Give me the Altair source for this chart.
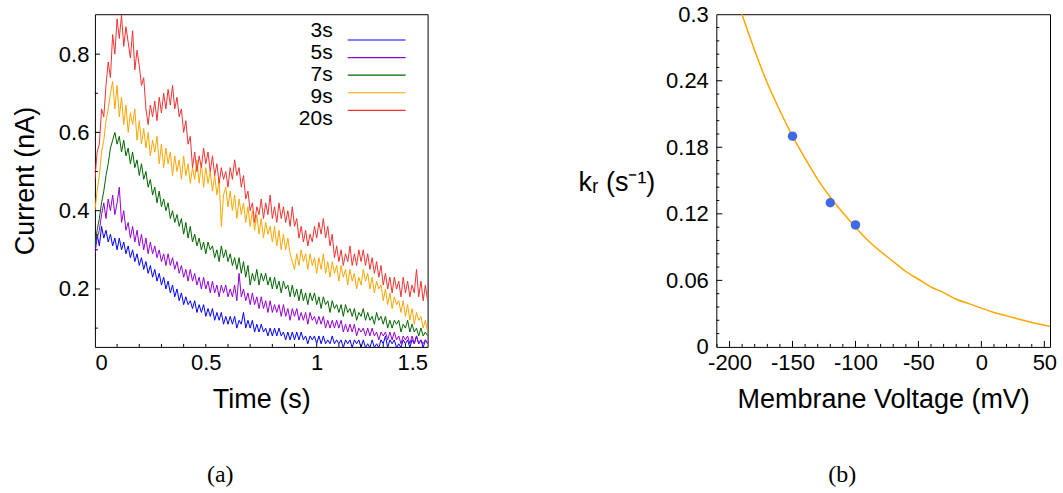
import altair as alt
import pandas as pd

# ---------------- Panel (a): current traces ----------------
time_s = [round(0.01 * i, 2) for i in range(151)]  # sample times 0 .. 1.5 s

cur_3s = [0.30, 0.34, 0.31, 0.36, 0.33, 0.35, 0.32, 0.34, 0.31, 0.33,
          0.30, 0.33, 0.30, 0.32, 0.29, 0.31, 0.28, 0.30, 0.27, 0.29,
          0.26, 0.28, 0.25, 0.27, 0.24, 0.26, 0.23, 0.25, 0.22, 0.24,
          0.21, 0.23, 0.20, 0.22, 0.19, 0.21, 0.18, 0.20, 0.17, 0.19,
          0.16, 0.18, 0.16, 0.17, 0.15, 0.17, 0.14, 0.16, 0.14, 0.16,
          0.13, 0.15, 0.13, 0.15, 0.12, 0.14, 0.12, 0.14, 0.11, 0.13,
          0.11, 0.13, 0.11, 0.13, 0.10, 0.12, 0.11, 0.14, 0.10, 0.12,
          0.10, 0.12, 0.09, 0.11, 0.09, 0.11, 0.09, 0.10, 0.08, 0.10,
          0.08, 0.10, 0.08, 0.10, 0.08, 0.09, 0.07, 0.09, 0.07, 0.09,
          0.07, 0.09, 0.07, 0.09, 0.07, 0.08, 0.06, 0.08, 0.07, 0.08,
          0.06, 0.08, 0.06, 0.08, 0.06, 0.07, 0.06, 0.08, 0.06, 0.07,
          0.06, 0.07, 0.05, 0.07, 0.06, 0.07, 0.05, 0.07, 0.06, 0.07,
          0.05, 0.07, 0.05, 0.06, 0.05, 0.07, 0.05, 0.06, 0.05, 0.07,
          0.06, 0.08, 0.05, 0.07, 0.06, 0.07, 0.05, 0.06, 0.05, 0.07,
          0.06, 0.07, 0.05, 0.07, 0.06, 0.08, 0.06, 0.07, 0.05, 0.07,
          0.06]
cur_5s = [0.29, 0.33, 0.35, 0.39, 0.42, 0.38, 0.43, 0.40, 0.44, 0.39,
          0.42, 0.46, 0.37, 0.40, 0.35, 0.37, 0.33, 0.36, 0.32, 0.35,
          0.31, 0.34, 0.30, 0.33, 0.29, 0.32, 0.29, 0.31, 0.28, 0.30,
          0.27, 0.29, 0.26, 0.29, 0.26, 0.28, 0.25, 0.27, 0.24, 0.26,
          0.23, 0.25, 0.22, 0.25, 0.22, 0.24, 0.21, 0.23, 0.20, 0.23,
          0.20, 0.22, 0.19, 0.22, 0.19, 0.21, 0.18, 0.21, 0.19, 0.21,
          0.18, 0.20, 0.18, 0.21, 0.17, 0.24, 0.18, 0.20, 0.17, 0.19,
          0.16, 0.19, 0.16, 0.18, 0.15, 0.18, 0.15, 0.17, 0.14, 0.17,
          0.14, 0.16, 0.14, 0.16, 0.13, 0.16, 0.13, 0.15, 0.12, 0.15,
          0.13, 0.15, 0.12, 0.14, 0.12, 0.14, 0.11, 0.14, 0.12, 0.13,
          0.11, 0.13, 0.11, 0.13, 0.10, 0.12, 0.10, 0.12, 0.10, 0.12,
          0.10, 0.12, 0.09, 0.11, 0.09, 0.11, 0.09, 0.11, 0.08, 0.10,
          0.09, 0.10, 0.08, 0.10, 0.08, 0.10, 0.08, 0.09, 0.07, 0.09,
          0.08, 0.09, 0.07, 0.09, 0.07, 0.09, 0.07, 0.08, 0.06, 0.08,
          0.07, 0.08, 0.06, 0.08, 0.06, 0.08, 0.06, 0.07, 0.06, 0.07,
          0.06]
cur_7s = [0.31, 0.35, 0.38, 0.42, 0.45, 0.49, 0.52, 0.56, 0.58, 0.60,
          0.57, 0.59, 0.55, 0.58, 0.54, 0.56, 0.52, 0.55, 0.51, 0.53,
          0.49, 0.52, 0.48, 0.50, 0.46, 0.48, 0.44, 0.46, 0.42, 0.45,
          0.41, 0.43, 0.40, 0.42, 0.38, 0.40, 0.37, 0.39, 0.36, 0.38,
          0.34, 0.37, 0.33, 0.36, 0.32, 0.34, 0.31, 0.33, 0.30, 0.32,
          0.29, 0.32, 0.30, 0.31, 0.28, 0.30, 0.27, 0.31, 0.28, 0.30,
          0.27, 0.29, 0.26, 0.28, 0.25, 0.28, 0.24, 0.27, 0.23, 0.26,
          0.21, 0.24, 0.22, 0.25, 0.21, 0.24, 0.22, 0.24, 0.21, 0.23,
          0.20, 0.23, 0.20, 0.22, 0.19, 0.22, 0.20, 0.21, 0.18, 0.21,
          0.18, 0.20, 0.17, 0.20, 0.17, 0.19, 0.16, 0.19, 0.17, 0.19,
          0.16, 0.18, 0.15, 0.18, 0.16, 0.17, 0.14, 0.17, 0.15, 0.16,
          0.14, 0.16, 0.13, 0.16, 0.14, 0.15, 0.13, 0.15, 0.12, 0.14,
          0.13, 0.15, 0.12, 0.14, 0.12, 0.13, 0.11, 0.14, 0.12, 0.13,
          0.11, 0.13, 0.10, 0.12, 0.10, 0.12, 0.11, 0.12, 0.09, 0.11,
          0.10, 0.12, 0.09, 0.11, 0.09, 0.10, 0.08, 0.10, 0.08, 0.09,
          0.08]
cur_9s = [0.40, 0.45, 0.49, 0.55, 0.58, 0.63, 0.66, 0.70, 0.73, 0.66,
          0.72, 0.64, 0.69, 0.62, 0.67, 0.60, 0.65, 0.62, 0.66, 0.58,
          0.63, 0.57, 0.61, 0.56, 0.60, 0.54, 0.58, 0.55, 0.59, 0.52,
          0.57, 0.51, 0.56, 0.52, 0.55, 0.49, 0.54, 0.50, 0.53, 0.48,
          0.54, 0.49, 0.52, 0.47, 0.51, 0.48, 0.53, 0.47, 0.52, 0.46,
          0.51, 0.47, 0.50, 0.45, 0.49, 0.44, 0.48, 0.36, 0.44, 0.46,
          0.41, 0.45, 0.40, 0.44, 0.38, 0.43, 0.39, 0.42, 0.37, 0.41,
          0.36, 0.40, 0.35, 0.39, 0.34, 0.38, 0.33, 0.37, 0.34, 0.36,
          0.32, 0.36, 0.31, 0.35, 0.30, 0.34, 0.30, 0.33, 0.29, 0.27,
          0.25, 0.29, 0.26, 0.30, 0.27, 0.29, 0.25, 0.29, 0.26, 0.28,
          0.24, 0.28, 0.25, 0.29, 0.24, 0.27, 0.23, 0.27, 0.24, 0.26,
          0.22, 0.26, 0.23, 0.25, 0.21, 0.25, 0.22, 0.24, 0.20, 0.23,
          0.21, 0.25, 0.22, 0.24, 0.20, 0.23, 0.19, 0.22, 0.20, 0.21,
          0.17, 0.20, 0.16, 0.19, 0.15, 0.18, 0.16, 0.17, 0.14, 0.17,
          0.13, 0.16, 0.12, 0.15, 0.11, 0.14, 0.12, 0.13, 0.10, 0.12,
          0.09]
cur_20s = [0.48, 0.55, 0.57, 0.66, 0.64, 0.72, 0.78, 0.74, 0.85, 0.80,
           0.89, 0.84, 0.90, 0.82, 0.87, 0.83, 0.79, 0.86, 0.76, 0.81,
           0.77, 0.72, 0.74, 0.66, 0.62, 0.67, 0.64, 0.68, 0.63, 0.69,
           0.65, 0.70, 0.66, 0.71, 0.67, 0.72, 0.66, 0.69, 0.64, 0.66,
           0.60, 0.63, 0.57, 0.59, 0.51, 0.55, 0.50, 0.54, 0.51, 0.56,
           0.52, 0.55, 0.50, 0.54, 0.49, 0.52, 0.47, 0.51, 0.48, 0.50,
           0.46, 0.51, 0.48, 0.53, 0.49, 0.51, 0.46, 0.49, 0.43, 0.45,
           0.40, 0.42, 0.37, 0.41, 0.39, 0.43, 0.38, 0.42, 0.39, 0.44,
           0.38, 0.41, 0.37, 0.42, 0.38, 0.41, 0.37, 0.40, 0.36, 0.41,
           0.36, 0.38, 0.33, 0.36, 0.32, 0.35, 0.31, 0.34, 0.32, 0.36,
           0.33, 0.37, 0.34, 0.38, 0.33, 0.36, 0.31, 0.34, 0.28, 0.31,
           0.27, 0.30, 0.26, 0.29, 0.27, 0.31, 0.26, 0.29, 0.26, 0.30,
           0.27, 0.30, 0.26, 0.29, 0.25, 0.28, 0.24, 0.27, 0.23, 0.26,
           0.21, 0.24, 0.20, 0.23, 0.19, 0.23, 0.20, 0.22, 0.18, 0.23,
           0.19, 0.22, 0.18, 0.21, 0.19, 0.25, 0.18, 0.22, 0.17, 0.21,
           0.17]

series_names = ["3s", "5s", "7s", "9s", "20s"]
series_colors = ["#0000ff", "#9400d3", "#006400", "#ffa500", "#f03232"]
series_values = [cur_3s, cur_5s, cur_7s, cur_9s, cur_20s]

a_x_labels = [0, 0.5, 1, 1.5]
a_y_labels = [0.2, 0.4, 0.6, 0.8]
a_x_ticks = [0.1, 0.2, 0.3, 0.4, 0.5, 0.6, 0.7, 0.8, 0.9, 1.0, 1.1, 1.2, 1.3, 1.4]
a_y_major = [0.2, 0.4, 0.6, 0.8]
a_y_minor = [0.1, 0.3, 0.5, 0.7]

# ---------------- Panel (b): k_r vs voltage ----------------
pts_voltage = [-150, -120, -100]
pts_kr = [0.19, 0.13, 0.11]

fit_voltage = [-192, -185, -180, -170, -160, -150, -140, -130, -120, -110, -100,
               -90, -80, -70, -60, -50, -40, -30, -20, -10, 0, 10, 20, 30, 40, 50, 55]
fit_kr = [0.306, 0.283, 0.267, 0.238, 0.213, 0.190, 0.170, 0.151, 0.135, 0.121, 0.108,
          0.096, 0.086, 0.077, 0.068, 0.061, 0.054, 0.049, 0.043, 0.039, 0.035,
          0.031, 0.028, 0.025, 0.022, 0.0196, 0.0185]

b_x_labels = [-200, -150, -100, -50, 0, 50]
b_y_labels = [0, 0.06, 0.12, 0.18, 0.24, 0.3]
b_x_major = [-200, -150, -100, -50, 0, 50]
b_x_minor = [-210, -190, -180, -170, -160, -140, -130, -120, -110, -90, -80, -70,
             -60, -40, -30, -20, -10, 10, 20, 30, 40]
b_y_major = [0.06, 0.12, 0.18, 0.24]
b_y_minor = [0.012, 0.024, 0.036, 0.048, 0.072, 0.084, 0.096, 0.108, 0.132, 0.144,
             0.156, 0.168, 0.192, 0.204, 0.216, 0.228, 0.252, 0.264, 0.276, 0.288]

FONT = "Liberation Sans"
W_A, H = 333, 333
W_B = 334

rows = []
for name, vals in zip(series_names, series_values):
    for t, v in zip(time_s, vals):
        rows.append({"series": name, "t": t, "current": v})
df_a = pd.DataFrame(rows)

color_scale = alt.Scale(domain=series_names, range=series_colors)
xs_a = alt.Scale(domain=[0, 1.5], nice=False, zero=False)
ys_a = alt.Scale(domain=[0.052, 0.902], nice=False, zero=False)

lines_a = alt.Chart(df_a).mark_line(strokeWidth=1, clip=True).encode(
    x=alt.X("t:Q", scale=xs_a,
            axis=alt.Axis(values=a_x_labels, format="~g", title="Time (s)",
                          labelPadding=6, titlePadding=13)),
    y=alt.Y("current:Q", scale=ys_a,
            axis=alt.Axis(values=a_y_labels, format=".1f", title="Current (nA)",
                          labelPadding=6, titlePadding=19)),
    color=alt.Color("series:N", scale=color_scale, legend=None),
)

# in-plot legend (labels right-aligned, line samples to their right)
df_leg = pd.DataFrame({"series": series_names})
leg_y = alt.Y("series:N", scale=alt.Scale(domain=series_names, range=[17, 105], padding=0),
              axis=None)
leg_text = alt.Chart(df_leg).mark_text(align="right", baseline="middle", font=FONT,
                                       fontSize=21, color="black").encode(
    y=leg_y, x=alt.value(238), text="series:N")
leg_line = alt.Chart(df_leg).mark_rule(strokeWidth=1.2).encode(
    y=leg_y, x=alt.value(253), x2=alt.value(311),
    color=alt.Color("series:N", scale=color_scale, legend=None))


def yticks(values, scale, length):
    return alt.Chart(pd.DataFrame({"v": values})).mark_rule(color="black", strokeWidth=1).encode(
        y=alt.Y("v:Q", scale=scale, axis=None), x=alt.value(0), x2=alt.value(length))


def xticks(values, scale, length, h):
    return alt.Chart(pd.DataFrame({"v": values})).mark_rule(color="black", strokeWidth=1).encode(
        x=alt.X("v:Q", scale=scale, axis=None), y=alt.value(h), y2=alt.value(h - length))


panel_a = alt.layer(
    lines_a,
    yticks(a_y_major, ys_a, 5),
    yticks(a_y_minor, ys_a, 3),
    xticks(a_x_ticks, xs_a, 3, H),
    leg_line, leg_text,
).resolve_scale(x="independent", y="independent").properties(
    width=W_A, height=H,
    title=alt.TitleParams("(a)", orient="bottom", frame="group", anchor="middle", dx=-41,
                          offset=50, font="Liberation Serif", fontSize=24,
                          fontWeight="normal", color="black"),
)

xs_b = alt.Scale(domain=[-210.5, 54.5], nice=False, zero=False)
ys_b = alt.Scale(domain=[0, 0.3], nice=False, zero=False)

df_fit = pd.DataFrame({"V": fit_voltage, "k": fit_kr})
df_pts = pd.DataFrame({"V": pts_voltage, "k": pts_kr})

fit_b = alt.Chart(df_fit).mark_line(color="#ffa500", strokeWidth=1.5, clip=True,
                                    interpolate="monotone").encode(
    x=alt.X("V:Q", scale=xs_b,
            axis=alt.Axis(values=b_x_labels, labelExpr="'' + datum.value",
                          title="Membrane Voltage (mV)", labelPadding=6, titlePadding=13)),
    y=alt.Y("k:Q", scale=ys_b,
            axis=alt.Axis(values=b_y_labels, format="~g", title="kᵣ (s⁻¹)",
                          labelPadding=8, titleAngle=0, titleAlign="center",
                          titleBaseline="middle", titleX=-100, titleY=168)),
)
pts_b = alt.Chart(df_pts).mark_circle(color="#4169e1", size=90, opacity=1).encode(
    x=alt.X("V:Q", scale=xs_b, axis=None), y=alt.Y("k:Q", scale=ys_b, axis=None))

panel_b = alt.layer(
    fit_b, pts_b,
    yticks(b_y_major, ys_b, 6),
    yticks(b_y_minor, ys_b, 3),
    xticks(b_x_major, xs_b, 6, H),
    xticks(b_x_minor, xs_b, 3, H),
).resolve_scale(x="independent", y="independent").properties(
    width=W_B, height=H,
    title=alt.TitleParams("(b)", orient="bottom", frame="group", anchor="middle", dx=-41,
                          offset=50, font="Liberation Serif", fontSize=24,
                          fontWeight="normal", color="black"),
)

chart = alt.hconcat(panel_a, panel_b, spacing=289, bounds="flush").properties(
    padding={"left": 10, "top": 2, "right": 5, "bottom": 5}
).configure_view(
    stroke="black", strokeWidth=1
).configure_axis(
    labelFont=FONT, labelFontSize=22, labelColor="black",
    titleFont=FONT, titleFontSize=27, titleFontWeight="normal", titleColor="black",
    ticks=False, domain=False, grid=False
)

chart.save("out.html", embed_options={"renderer": "svg", "actions": False})
